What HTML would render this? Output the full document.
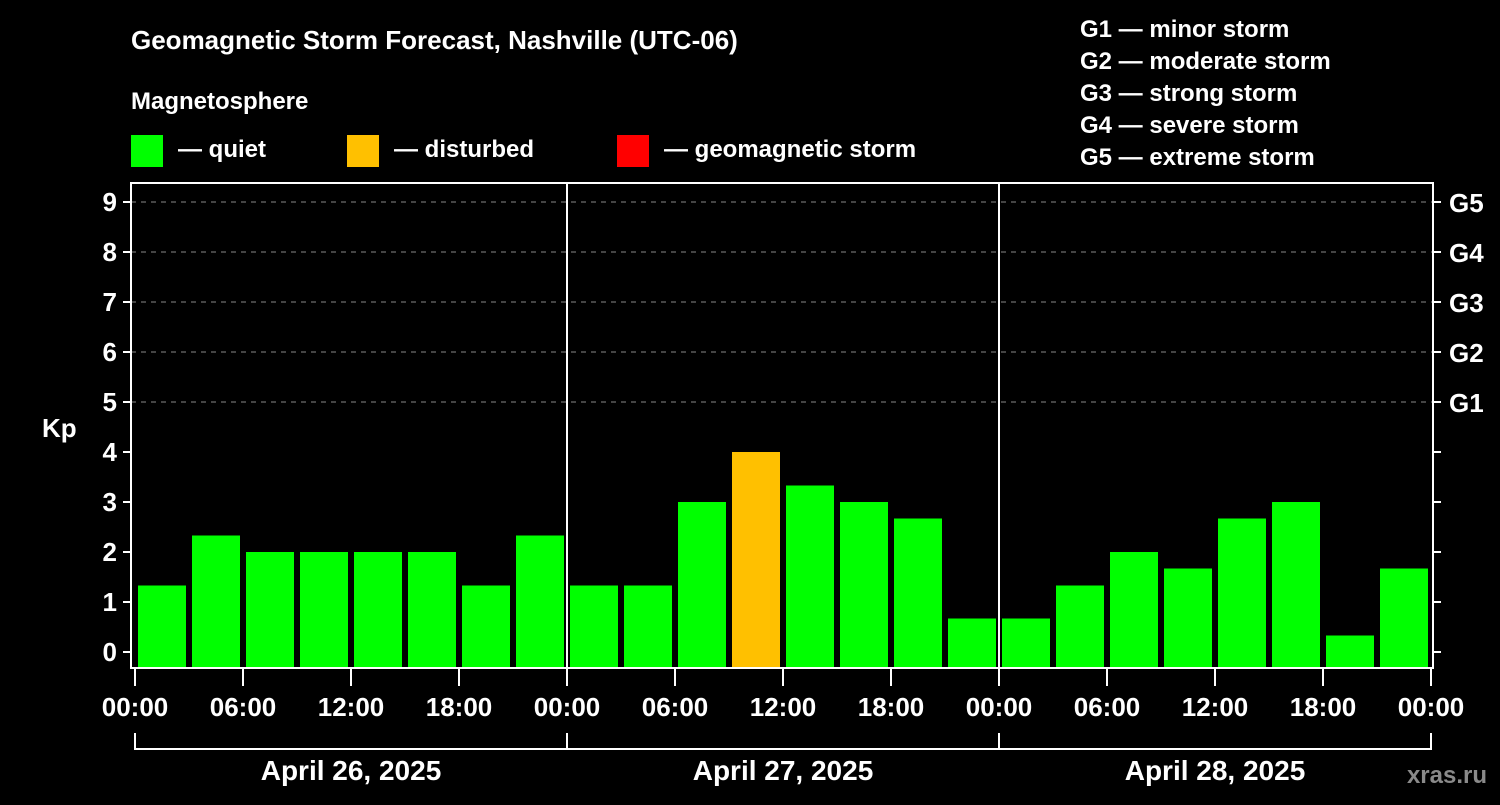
<!DOCTYPE html>
<html><head><meta charset="utf-8"><style>
body{margin:0;background:#000;width:1500px;height:800px;overflow:hidden}
svg text{font-family:"Liberation Sans",sans-serif;font-weight:bold;fill:#fff}
</style></head><body>
<svg id="c" width="1500" height="800">
<text x="131" y="49" font-size="26">Geomagnetic Storm Forecast, Nashville (UTC-06)</text>
<text x="131" y="109" font-size="24">Magnetosphere</text>
<rect x="131" y="135" width="32" height="32" fill="#00ff00"/>
<text x="178" y="157" font-size="24">— quiet</text>
<rect x="347" y="135" width="32" height="32" fill="#ffc000"/>
<text x="394" y="157" font-size="24">— disturbed</text>
<rect x="617" y="135" width="32" height="32" fill="#ff0000"/>
<text x="664" y="157" font-size="24">— geomagnetic storm</text>
<g font-size="24">
<text x="1080" y="37">G1 — minor storm</text>
<text x="1080" y="69">G2 — moderate storm</text>
<text x="1080" y="101">G3 — strong storm</text>
<text x="1080" y="133">G4 — severe storm</text>
<text x="1080" y="165">G5 — extreme storm</text>
</g>
<text x="42" y="437" font-size="26">Kp</text>
<text x="1487" y="783" font-size="24" fill="#888" style="fill:#8a8a8a" text-anchor="end">xras.ru</text>
<g id="grid"></g><g id="bars"></g><g id="axes"></g>
</svg>
<script>
const kpValues=[1.33,2.33,2,2,2,2,1.33,2.33, 1.33,1.33,3,4,3.33,3,2.67,0.67, 0.67,1.33,2,1.67,2.67,3,0.33,1.67];
const dayLabels=["April 26, 2025","April 27, 2025","April 28, 2025"];
const hourLabels=["00:00","06:00","12:00","18:00"];
const yTicks=[0,1,2,3,4,5,6,7,8,9];
const gLabels=["G1","G2","G3","G4","G5"];
const NS="http://www.w3.org/2000/svg";
const X0=135,DAY=432,SLOT=54,PL=131,PR=1433,PT=183,PB=668;
const y=v=>652-v*50;
const x=i=>X0+i*SLOT;
function mk(t,a,p,txt){const e=document.createElementNS(NS,t);for(const k in a)e.setAttribute(k,a[k]);if(txt!=null)e.textContent=txt;document.getElementById(p).appendChild(e);return e;}
yTicks.forEach(v=>{
 if(v>=5){const g=mk('line',{x1:PL,x2:PR,y1:y(v),y2:y(v),stroke:'#888','stroke-dasharray':'5,5','stroke-width':1},'grid');
 
 }
 const t=mk('line',{x1:PL-8,x2:PL,y1:y(v),y2:y(v),stroke:'#fff','stroke-width':2},'axes');
 
 
 const t2=mk('line',{x1:PR,x2:PR+8,y1:y(v),y2:y(v),stroke:'#fff','stroke-width':2},'axes');
 
 
 const l=mk('text',{x:PL-14,y:y(v)+9,'font-size':26,'text-anchor':'end'},'axes',String(v));
 
 
});
gLabels.forEach((g,i)=>{
 const l=mk('text',{x:PR+16,y:y(5+i)+10,'font-size':26},'axes',g);
 
 
});
kpValues.forEach((v,i)=>{
 const col=v>=5?'#ff0000':v>=4?'#ffc000':'#00ff00';
 const b=mk('rect',{x:x(i)+3,y:y(v),width:48,height:PB-1-y(v),fill:col},'bars');
 
 
});
const f=mk('rect',{x:PL,y:PT,width:PR-PL,height:PB-PT,fill:'none',stroke:'#fff','stroke-width':2},'axes');


dayLabels.forEach((d,k)=>{
 if(k>0){const s=mk('line',{x1:X0+k*DAY,x2:X0+k*DAY,y1:PT,y2:PB,stroke:'#fff','stroke-width':2},'axes');
 
 }
 const l=mk('text',{x:X0+k*DAY+DAY/2,y:780,'font-size':28,'text-anchor':'middle'},'axes',d);
 
 
});
for(let h=0;h<=12;h++){
 const xx=X0+h*DAY/4;
 const t=mk('line',{x1:xx,x2:xx,y1:PB,y2:PB+18,stroke:'#fff','stroke-width':2},'axes');
 
 
 const l=mk('text',{x:xx,y:716,'font-size':26,'text-anchor':'middle'},'axes',hourLabels[h%4]);
 
 
}
for(let k=0;k<=3;k++){
 const v=mk('line',{x1:X0+k*DAY,x2:X0+k*DAY,y1:733,y2:750,stroke:'#fff','stroke-width':2},'axes');
 
 
}
const br=mk('line',{x1:X0,x2:X0+3*DAY,y1:749,y2:749,stroke:'#fff','stroke-width':2},'axes');


</script>
</body></html>
